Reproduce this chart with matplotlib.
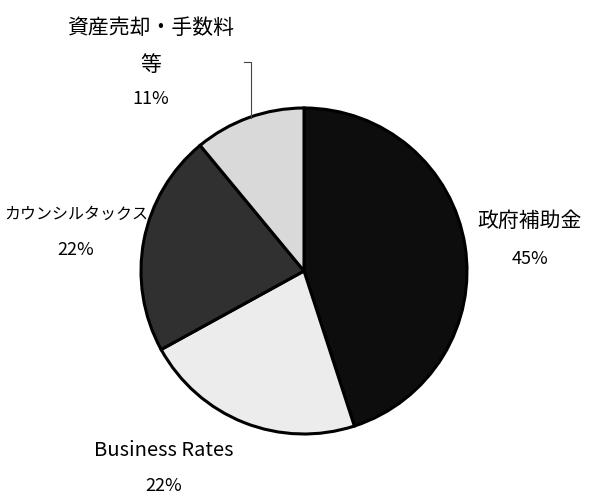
import matplotlib
matplotlib.use("Agg")
from matplotlib import pyplot as plt

plt.rcParams['font.family'] = ['Noto Sans CJK JP', 'DejaVu Sans']

# data
labels = ['政府補助金', 'Business Rates', 'カウンシルタックス', '資産売却・手数料\n等']
shares = [45, 22, 22, 11]
colors = ['#0d0d0d', '#ececec', '#303030', '#d9d9d9']
name_sizes = [15, 14.5, 11.5, 15]

# pixel helpers (pie centre at 304,271, radius 163 px)
CX, CY, R = 304, 271, 163
def px(x, y):
    return (x - CX) / R, (CY - y) / R

fig = plt.figure(figsize=(5.9, 4.96), dpi=100)
ax = fig.add_axes([0, 0, 1, 1])

ax.pie(shares, colors=colors, startangle=90, counterclock=False,
       radius=1.0, center=(0, 0),
       wedgeprops=dict(edgecolor='black', linewidth=2.2))

ax.set_xlim(px(0, 0)[0], px(590, 0)[0])
ax.set_ylim(px(0, 496)[1], px(0, 0)[1])
ax.set_aspect('equal')
ax.axis('off')

# labels
label_pos = [((530, 221), (530, 259)),
             ((164, 451), (164, 486)),
             ((76, 214), (76, 250)),
             ((151, 28), (151, 99))]
for lab, val, size, (p1, p2) in zip(labels, shares, name_sizes, label_pos):
    name = lab.split('\n')
    ax.text(*px(*p1), name[0], ha='center', va='center', fontsize=size)
    if len(name) > 1:
        ax.text(*px(151, 65), name[1], ha='center', va='center', fontsize=size)
    ax.text(*px(*p2), f'{val}%', ha='center', va='center', fontsize=13)

# leader line for the small slice
lx, ly = zip(px(244, 62), px(251, 62), px(251, 118))
ax.plot(lx, ly, color='#444444', linewidth=0.8)

fig.savefig('out.png', dpi=100)
